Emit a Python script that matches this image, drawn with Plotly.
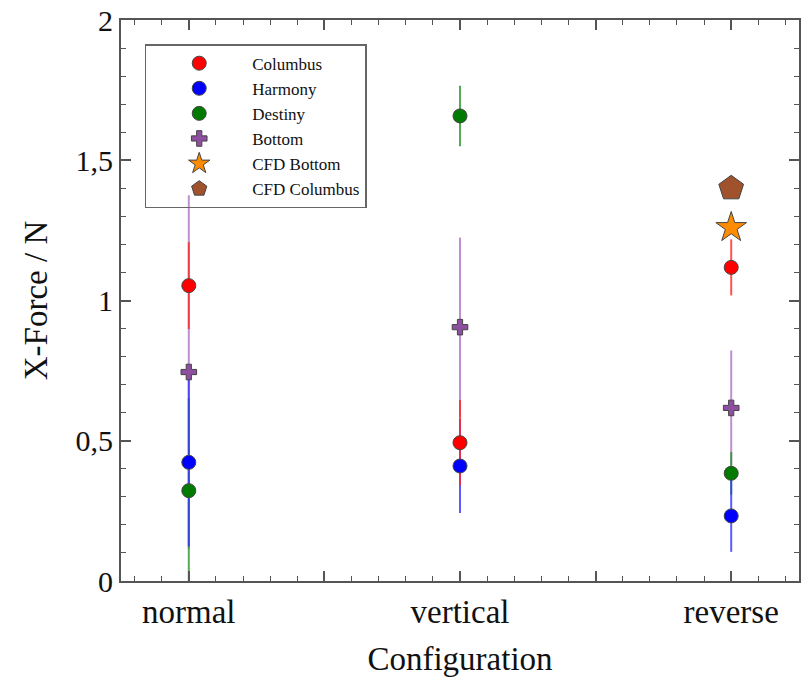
import plotly.graph_objects as go
import numpy as np

configs = ["normal", "vertical", "reverse"]
xpos = np.arange(len(configs))

columbus = [1.053, 0.493, 1.118]
columbus_err = [0.155, 0.152, 0.100]
harmony = [0.423, 0.410, 0.232]
harmony_err = [0.300, 0.168, 0.128]
destiny = [0.322, 1.658, 0.384]
destiny_err = [0.330, 0.108, 0.076]
bottom = [0.745, 0.905, 0.617]
bottom_err = [0.630, 0.320, 0.205]
cfd_bottom = [1.26]
cfd_columbus = [1.40]
cfd_config = ["reverse"]

FONT = "Liberation Serif"

series = [
    # name, values, errors, marker color, error color, symbol, legend rank
    ("Columbus", columbus, columbus_err, "#ff0000", "rgba(255,40,40,0.8)", "circle", 1),
    ("Harmony", harmony, harmony_err, "#0000ff", "rgba(50,50,255,0.8)", "circle", 2),
    ("Destiny", destiny, destiny_err, "#007a00", "rgba(40,150,40,0.8)", "circle", 3),
    ("Bottom", bottom, bottom_err, "#8e4fa0", "rgba(185,130,205,0.9)", "cross", 4),
]

fig = go.Figure()

# error bars first (drawing order Bottom, Destiny, Harmony, Columbus)
for name, vals, errs, mc, ec, sym, rank in reversed(series):
    fig.add_trace(go.Scatter(
        x=xpos, y=vals, mode="markers",
        marker=dict(size=1, color="rgba(0,0,0,0)"),
        error_y=dict(type="data", array=errs, visible=True, color=ec,
                     thickness=2, width=0),
        showlegend=False, hoverinfo="skip"))

# markers
for name, vals, errs, mc, ec, sym, rank in series:
    fig.add_trace(go.Scatter(
        x=xpos, y=vals, mode="markers", name=name, legendrank=rank,
        marker=dict(size=14 if sym == "circle" else 13, color=mc, symbol=sym,
                    line=dict(color="#444444", width=1))))

cfd_x = [configs.index(c) for c in cfd_config]
fig.add_trace(go.Scatter(
    x=cfd_x, y=cfd_bottom, mode="markers", name="CFD Bottom", legendrank=5,
    marker=dict(size=23, color="#ff8c00", symbol="star",
                line=dict(color="#444444", width=1))))
fig.add_trace(go.Scatter(
    x=cfd_x, y=cfd_columbus, mode="markers", name="CFD Columbus", legendrank=6,
    marker=dict(size=26, color="#a0522d", symbol="pentagon",
                line=dict(color="#444444", width=1))))

axis_common = dict(
    showline=True, linecolor="#555555", linewidth=2, mirror="ticks",
    ticks="inside", tickcolor="#555555", tickwidth=1.5, ticklen=10,
    showgrid=False, zeroline=False,
)

fig.update_layout(
    width=802, height=677,
    margin=dict(l=121, r=1, t=20, b=96),
    paper_bgcolor="white", plot_bgcolor="white",
    separators=", ",
    font=dict(family=FONT, color="#111111"),
    xaxis=dict(
        range=[-0.25, 2.25],
        tickmode="array", tickvals=[0, 0.5, 1, 1.5, 2],
        ticktext=[configs[0], "", configs[1], "", configs[2]],
        tickfont=dict(family=FONT, size=33, color="#111111"),
        minor=dict(dtick=0.1, tick0=0, ticks="inside", ticklen=5,
                   tickcolor="#555555", tickwidth=1.2),
        title=dict(text="Configuration", font=dict(family=FONT, size=33), standoff=20),
        **axis_common),
    yaxis=dict(
        range=[0, 2], dtick=0.5, tick0=0,
        tickfont=dict(family=FONT, size=30, color="#111111"),
        minor=dict(dtick=0.1, ticks="inside", ticklen=5,
                   tickcolor="#555555", tickwidth=1.2),
        title=dict(text="X-Force / N", font=dict(family=FONT, size=33), standoff=18),
        **axis_common),
    legend=dict(
        x=0.035, y=0.957, xanchor="left", yanchor="top",
        bgcolor="rgba(255,255,255,0)", bordercolor="#666666", borderwidth=1.5,
        font=dict(family=FONT, size=17, color="#111111"),
        itemwidth=96, tracegroupgap=0, entrywidth=260, entrywidthmode="pixels",
    ),
)

fig.write_html("out.html")
